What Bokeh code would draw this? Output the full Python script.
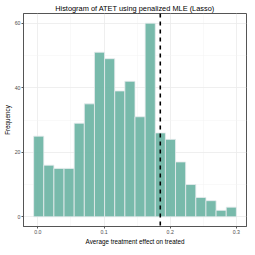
import numpy as np
from bokeh.plotting import figure
from bokeh.models import Span, FixedTicker, NumeralTickFormatter, ColumnDataSource
from bokeh.embed import file_html
from bokeh.resources import INLINE

# ---- data ----
counts = [25, 16, 15, 15, 29, 35, 51, 49, 39, 42, 31, 60, 26, 24, 17, 10, 6, 5, 2, 3]
bin_start = -0.0064
bin_width = 0.01532
atet_mean = 0.185
x_ticks = [0.0, 0.1, 0.2, 0.3]
x_minor = [0.05, 0.15, 0.25]
y_ticks = [0, 20, 40, 60]
y_minor = [10, 30, 50]
title_text = "Histogram of ATET using penalized MLE (Lasso)"
x_title = "Average treatment effect on treated"
y_title = "Frequency"

edges = bin_start + bin_width * np.arange(len(counts) + 1)
src = ColumnDataSource(dict(left=edges[:-1], right=edges[1:], top=counts,
                            bottom=[0] * len(counts)))

span_x = edges[-1] - edges[0]
FONT = "Liberation Sans"

p = figure(width=247, height=247, output_backend="svg", toolbar_location=None,
           x_range=(edges[0] - 0.05 * span_x, edges[-1] + 0.05 * span_x),
           y_range=(-3, 63))
p.min_border_left = 0
p.min_border_bottom = 0
p.min_border_top = 0
p.min_border_right = 1
p.background_fill_color = "white"
p.border_fill_color = "white"
p.outline_line_color = "#555555"
p.outline_line_width = 1

p.title.text = title_text
p.title.align = "center"
p.title.text_font = FONT
p.title.text_font_size = "7.4px"
p.title.text_font_style = "normal"
p.title.text_color = "black"
p.title.standoff = 2
p.title.offset = 0

p.quad(left="left", right="right", top="top", bottom="bottom", source=src,
       fill_color="#69b3a2", fill_alpha=0.9, line_color="#e9ecef", line_width=0.8)

p.add_layout(Span(location=atet_mean, dimension="height", line_color="black",
                  line_width=1.6, line_dash="4 4"))

p.xaxis.ticker = FixedTicker(ticks=x_ticks, minor_ticks=x_minor)
p.yaxis.ticker = FixedTicker(ticks=y_ticks, minor_ticks=y_minor)
p.xaxis.formatter = NumeralTickFormatter(format="0.0")

for ax in (p.xaxis, p.yaxis):
    ax.axis_line_color = "#555555"
    ax.major_tick_line_color = "#555555"
    ax.major_tick_out = 2
    ax.major_tick_in = 0
    ax.minor_tick_out = 0
    ax.minor_tick_in = 0
    ax.major_label_text_font = FONT
    ax.major_label_text_font_size = "5.2px"
    ax.major_label_text_color = "#4d4d4d"
    ax.major_label_standoff = 1
    ax.axis_label_text_font = FONT
    ax.axis_label_text_font_size = "6.3px"
    ax.axis_label_text_font_style = "normal"
    ax.axis_label_text_color = "black"
    ax.axis_label_standoff = 1

p.xaxis.axis_label = x_title
p.yaxis.axis_label = y_title

for g in (p.xgrid, p.ygrid):
    g.grid_line_color = "#ebebeb"
    g.grid_line_width = 0.8
    g.minor_grid_line_color = "#f2f2f2"
    g.minor_grid_line_width = 0.5

open("out.html", "w").write(file_html(p, INLINE))
